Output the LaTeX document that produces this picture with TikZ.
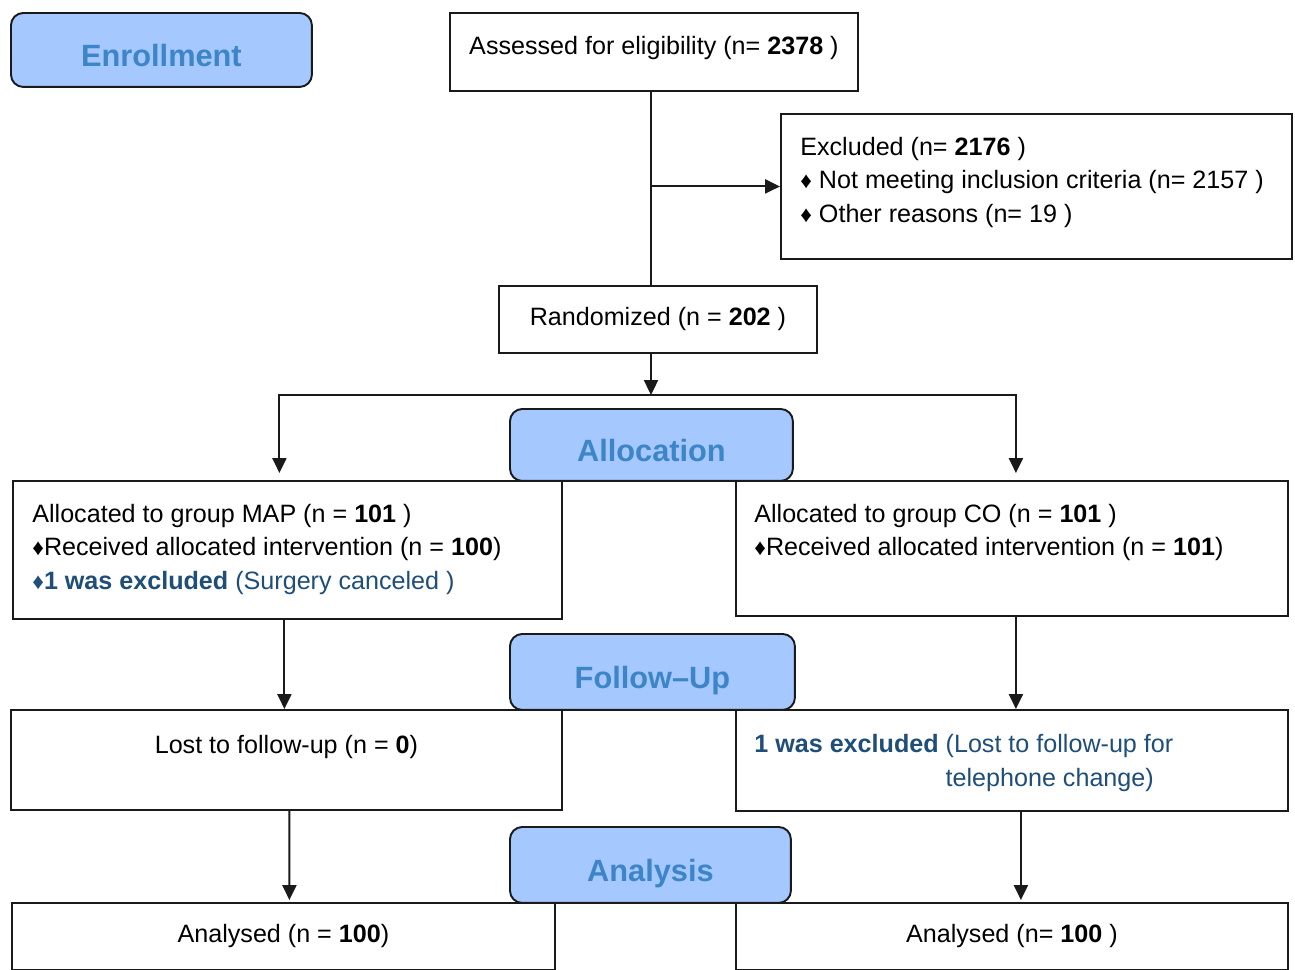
\documentclass[tikz,border=0pt]{standalone}
\usepackage{fontspec}
\setmainfont{Liberation Sans}
\usetikzlibrary{positioning,arrows.meta,calc}
\definecolor{cHead}{HTML}{A4C8FF}
\definecolor{cHeadText}{HTML}{3D85C6}
\definecolor{cNote}{HTML}{1F4E79}
\definecolor{cLine}{HTML}{1A1A1A}
\newcommand{\dmd}{{\fontsize{13}{13}\selectfont ♦}}

\begin{document}
\begin{tikzpicture}[x=0.02cm,y=-0.02cm,
    box/.style={draw=cLine,line width=1.1pt,fill=white,anchor=north west,inner sep=0pt,
      font=\fontsize{14.3}{19}\selectfont},
    txt/.style={anchor=north west,align=left,inner sep=0pt,font=\fontsize{14.3}{19}\selectfont},
    head/.style={draw=cLine,line width=1.1pt,fill=cHead,rounded corners=7pt,anchor=north west,
      inner sep=0pt,text=cHeadText,font=\fontsize{17.5}{20}\selectfont\bfseries,
      text height=19pt,text depth=0pt},
    link/.style={draw=cLine,line width=1.1pt},
    arr/.style={link,-{Triangle[length=8.5pt,width=8pt]}}]
  \useasboundingbox (0,0) rectangle (1295,970);

  % boxes
  \node[box,minimum width=8.16cm,minimum height=1.56cm,text depth=8pt] (assess) at (449,12)
    {Assessed for eligibility (n= \textbf{2378} )};
  \node[box,minimum width=10.22cm,minimum height=2.90cm] (excl) at (780,113) {};
  \node[box,minimum width=6.36cm,minimum height=1.34cm] (rand) at (498,285)
    {Randomized (n = \textbf{202} )};
  \node[box,minimum width=10.98cm,minimum height=2.76cm] (mapalloc) at (12,480) {};
  \node[box,minimum width=11.04cm,minimum height=2.70cm] (coalloc) at (735,480) {};
  \node[box,minimum width=11.02cm,minimum height=2.00cm] (lost) at (10,709) {};
  \node[box,minimum width=11.04cm,minimum height=2.02cm] (coexcl) at (735,709) {};
  \node[box,minimum width=10.86cm,minimum height=1.34cm] (anmap) at (11,902)
    {Analysed (n = \textbf{100})};
  \node[box,minimum width=11.04cm,minimum height=1.34cm] (anco) at (735,902)
    {Analysed (n= \textbf{100} )};

  % texts
  \node[txt] (excltxt) at ($(excl.north west)+(20,24)$)
    {Excluded (n= \textbf{2176} )\\
     \dmd\ Not meeting inclusion criteria (n= 2157 )\\
     \dmd\ Other reasons (n= 19 )};
  \node[txt] (maptxt) at ($(mapalloc.north west)+(20,24)$)
    {Allocated to group MAP (n = \textbf{101} )\\
     \dmd Received allocated intervention (n = \textbf{100})\\
     \textcolor{cNote}{\dmd\textbf{1 was excluded} (Surgery canceled )}};
  \node[txt] (cotxt) at ($(coalloc.north west)+(19,24)$)
    {Allocated to group CO (n = \textbf{101} )\\
     \dmd Received allocated intervention (n = \textbf{101})};
  \node[txt,anchor=north] (losttxt) at ($(lost.north)+(0,26)$)
    {Lost to follow-up (n = \textbf{0})};
  \node[txt,text=cNote] (coextxt) at ($(coexcl.north west)+(19,20)$)
    {\begin{tabular}{@{}l@{ }l@{}}
       \textbf{1 was excluded} & (Lost to follow-up for\\
                               & telephone change)
     \end{tabular}};

  % connectors
  \coordinate (split) at (651,395);
  \draw[link] (split |- assess.south) -- (split |- rand.north);
  \draw[arr] (split |- excl.west) -- (excl.west);
  \draw[arr] (split |- rand.south) -- (split);
  \draw[arr] (split) -| ($(mapalloc.north)+(-8,-7)$);
  \draw[arr] (split) -| ($(coalloc.north)+(4,-7)$);
  \draw[arr] ($(mapalloc.south)+(-3,0)$) -- ($(mapalloc.south |- lost.north)+(-3,0)$);
  \draw[arr] ($(coalloc.south)+(4,0)$) -- ($(coexcl.north)+(4,0)$);
  \draw[arr] ($(lost.south)+(3,0)$) -- ($(anmap.north)+(6,-2)$);
  \draw[arr] ($(coexcl.south)+(9,0)$) -- ($(anco.north)+(9,-2)$);

  % stage headers
  \node[head,minimum width=6.02cm,minimum height=1.48cm] (enrol) at (10,12) {Enrollment};
  \node[head,minimum width=5.66cm,minimum height=1.44cm] (allochd) at (509,408) {Allocation};
  \node[head,minimum width=5.70cm,minimum height=1.52cm] (fuhd) at (509,633) {Follow--Up};
  \node[head,minimum width=5.62cm,minimum height=1.52cm] (anhd) at (509,826) {Analysis};
\end{tikzpicture}
\end{document}
